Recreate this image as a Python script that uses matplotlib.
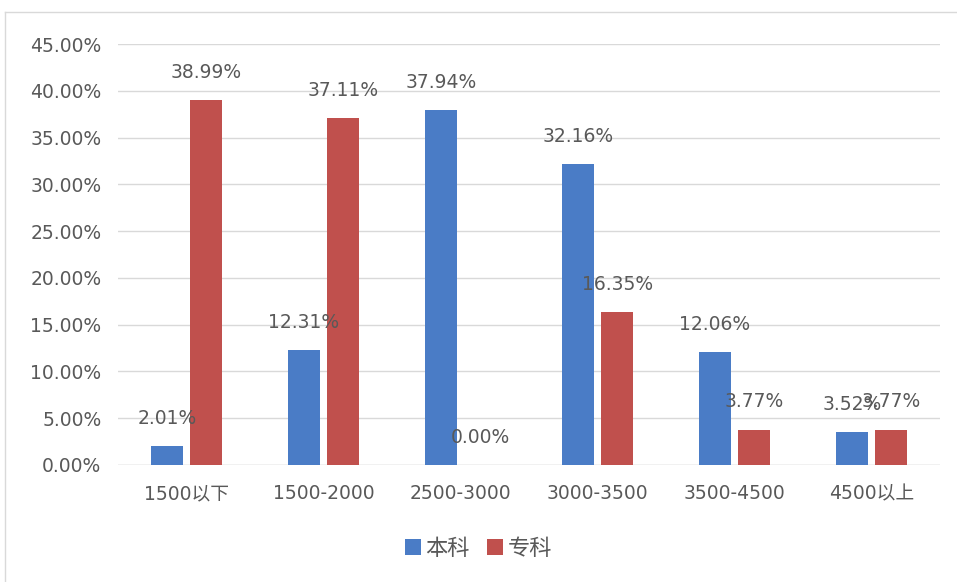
import matplotlib
matplotlib.use("Agg")
import matplotlib.pyplot as plt
from matplotlib.patches import Patch
from matplotlib.lines import Line2D
import numpy as np

plt.rcParams['font.family'] = ['DejaVu Sans', 'Noto Sans CJK SC']

categories = ['1500以下', '1500-2000', '2500-3000', '3000-3500', '3500-4500', '4500以上']
benke = [2.01, 12.31, 37.94, 32.16, 12.06, 3.52]
zhuanke = [38.99, 37.11, 0.00, 16.35, 3.77, 3.77]
series_names = ['本科', '专科']
yticks = [0, 5, 10, 15, 20, 25, 30, 35, 40, 45]

blue = '#4A7CC6'
red = '#C0504D'
txt = '#595959'

fig = plt.figure(figsize=(9.57, 5.82), dpi=100)
ax = fig.add_axes([118/957, 1-465/582, (940-118)/957, (465-44)/582])

x = np.arange(len(categories))
w = 0.23
off = 0.143
b1 = ax.bar(x - off, benke, w, color=blue, zorder=3)
b2 = ax.bar(x + off, zhuanke, w, color=red, zorder=3)

for bars, vals in ((b1, benke), (b2, zhuanke)):
    for r, v in zip(bars, vals):
        ax.annotate(f'{v:.2f}%', (r.get_x() + r.get_width()/2, v),
                    xytext=(0, 20), textcoords='offset points',
                    ha='center', va='center', fontsize=13.5, color=txt, zorder=4)

ax.set_xlim(-0.5, len(categories) - 0.5)
ax.set_ylim(0, 45)
ax.set_yticks(yticks)
ax.set_yticklabels([f'{t:.2f}%' for t in yticks])
ax.set_xticks(x)
ax.set_xticklabels(categories)
ax.tick_params(axis='both', length=0, labelsize=13.5, colors=txt)
ax.tick_params(axis='y', pad=12)
ax.tick_params(axis='x', pad=14)
ax.grid(axis='y', color='#D9D9D9', linewidth=1, zorder=0)
for s in ax.spines.values():
    s.set_visible(False)
ax.axhline(0, color='#D9D9D9', linewidth=1, zorder=2)

handles = [Patch(facecolor=blue), Patch(facecolor=red)]
fig.legend(handles, series_names, loc='center', bbox_to_anchor=(0.5, 0.058),
           ncol=2, frameon=False, prop={'family': ['Noto Sans CJK SC'], 'size': 16},
           handlelength=0.7, handleheight=0.7,
           handletextpad=0.2, columnspacing=0.8, labelcolor=txt)

# outer chart border
fig.add_artist(Line2D([5/957, 1], [1-12/582, 1-12/582], transform=fig.transFigure, color='#D9D9D9', lw=1))
fig.add_artist(Line2D([5/957, 5/957], [0, 1-12/582], transform=fig.transFigure, color='#D9D9D9', lw=1))

fig.savefig('out.png', dpi=100)
